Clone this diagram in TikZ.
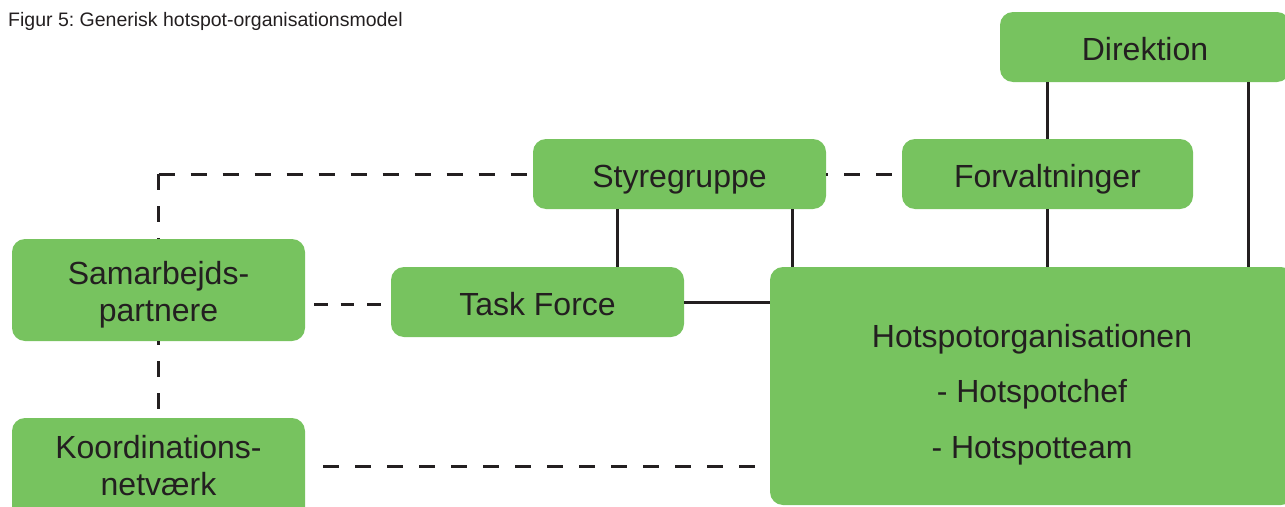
\documentclass[tikz,border=0pt]{standalone}
\usepackage{fontspec}
\setmainfont{Liberation Sans}
\definecolor{boxgreen}{HTML}{77C35F}
\definecolor{ink}{HTML}{231F20}
\frenchspacing
\begin{document}
\begin{tikzpicture}[x=1pt,y=-1pt,
  gbox/.style={fill=boxgreen, draw=none, rounded corners=13pt, inner sep=0pt,
    text=ink, font=\fontsize{32}{37}\selectfont},
  onebox/.style={gbox, minimum width=#1, minimum height=70pt, text height=26pt, text depth=0pt},
  multibox/.style={gbox, align=center},
  sline/.style={draw=ink, line width=3pt},
  dline/.style={draw=ink, line width=3pt, dash pattern=on 16pt off 16pt},
  dlineshort/.style={draw=ink, line width=3pt, dash pattern=on 13.5pt off 13pt}]
\useasboundingbox (0,0) rectangle (1285,506);
\clip (0,0) rectangle (1285,506);

\node[anchor=base west, text=ink, font=\fontsize{19.5}{22}\selectfont, inner sep=0pt] (title) at (8,27)
  {\frenchspacing Figur 5: Generisk hotspot-organisationsmodel};

\node[onebox=290pt] (dir) at (1145,47) {Direktion};
\node[onebox=291pt] (forv) at (1047.5,174) {Forvaltninger};
\node[onebox=293pt] (styre) at (679.5,174) {Styregruppe};
\node[onebox=293pt] (task) at (537.5,302) {Task Force};
\node[multibox, minimum width=524pt, minimum height=238pt,
  font=\fontsize{32}{55.5}\selectfont] (hot) at (1032,386)
  {\rule{0pt}{40pt}Hotspotorganisationen\\- Hotspotchef\\- Hotspotteam};
\node[multibox, minimum width=293pt, minimum height=102pt] (samar) at (158.5,290)
  {\rule{0pt}{33.4pt}Samarbejds-\\partnere};
\node[multibox, minimum width=293pt, minimum height=102pt] (koor) at (158.5,469)
  {Koordinations-\\netværk\rule[-7pt]{0pt}{7pt}};

% dashed connectors
\coordinate (c1) at (samar.north |- styre.west);
\draw[dline] (c1) -- (samar.north);
\draw[dline] (c1) -- (styre.west);
\coordinate (t1) at ([xshift=9pt,yshift=-2pt]samar.east |- task.west);
\draw[dlineshort] (t1) -- (t1 -| task.west);
\draw[dline, dash phase=23pt] (koor.north) -- (samar.south);
\coordinate (k1) at ([xshift=18pt,yshift=3pt]koor.east);
\draw[dline] (k1) -- (k1 -| hot.west);
\draw[dline, dash phase=22pt] (forv.west) -- (styre.east);

% solid connectors
\coordinate (s1) at ([xshift=-62.5pt]styre.south);
\draw[sline] (s1) -- (s1 |- task.north);
\coordinate (s2) at ([xshift=112.5pt]styre.south);
\draw[sline] (s2) -- (s2 |- hot.north);
\draw[sline] (task.east) -- (task.east -| hot.west);
\draw[sline] (forv.north |- dir.south) -- (forv.north);
\draw[sline] (forv.south) -- (forv.south |- hot.north);
\coordinate (d1) at ([xshift=103pt]dir.south);
\draw[sline] (d1) -- (d1 |- hot.north);
\end{tikzpicture}
\end{document}
